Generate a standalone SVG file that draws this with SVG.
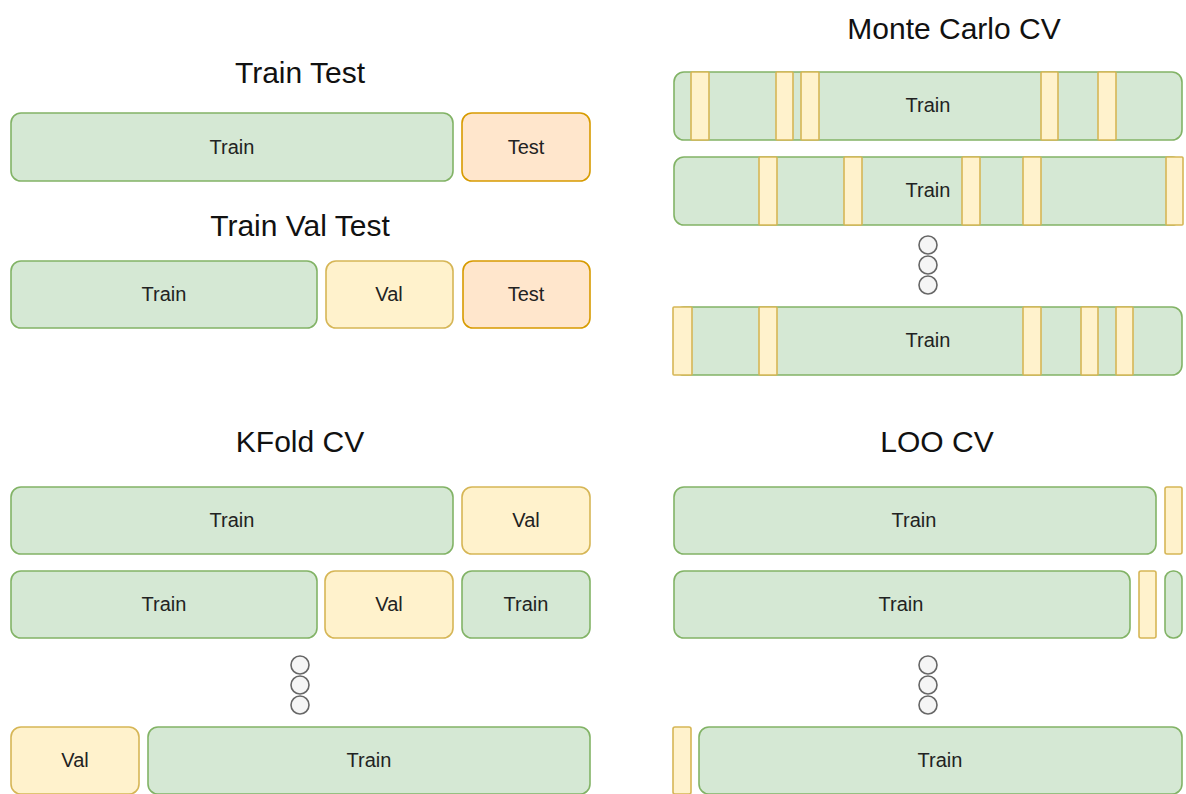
<svg xmlns="http://www.w3.org/2000/svg" width="1186" height="794" viewBox="0 0 1186 794">
  <style>
    .title { font-family: "Liberation Sans", Arial, sans-serif; font-size: 30px; fill: #111111; text-anchor: middle; }
    .lbl { font-family: "Liberation Sans", Arial, sans-serif; font-size: 20px; fill: #222222; text-anchor: middle; }
    .train { fill: #d5e8d4; stroke: #82b366; stroke-width: 1.6; }
    .val { fill: #fff2cc; stroke: #d6b656; stroke-width: 1.6; }
    .test { fill: #ffe6cc; stroke: #d79b00; stroke-width: 1.6; }
    .dot { fill: #f5f5f5; stroke: #666666; stroke-width: 1.6; }
  </style>
  <rect width="1186" height="794" fill="#ffffff"/>

  <!-- Train / Test split -->
  <g id="train-test">
    <text class="title" x="300" y="83">Train Test</text>
    <rect class="train" x="11" y="113" width="442" height="68" rx="10"/>
    <text class="lbl" x="232" y="154">Train</text>
    <rect class="test" x="462" y="113" width="128" height="68" rx="10"/>
    <text class="lbl" x="526" y="154">Test</text>
  </g>

  <!-- Train / Val / Test split -->
  <g id="train-val-test">
    <text class="title" x="300" y="236">Train Val Test</text>
    <rect class="train" x="11" y="261" width="306" height="67" rx="10"/>
    <text class="lbl" x="164" y="301">Train</text>
    <rect class="val" x="326" y="261" width="127" height="67" rx="10"/>
    <text class="lbl" x="389" y="301">Val</text>
    <rect class="test" x="463" y="261" width="127" height="67" rx="10"/>
    <text class="lbl" x="526" y="301">Test</text>
  </g>

  <!-- Monte Carlo cross-validation -->
  <g id="monte-carlo">
    <text class="title" x="954" y="39">Monte Carlo CV</text>
    <rect class="train" x="674" y="72" width="508" height="68" rx="10"/>
    <rect class="val" x="691" y="72" width="18" height="68" rx="1"/>
    <rect class="val" x="776" y="72" width="17" height="68" rx="1"/>
    <rect class="val" x="801" y="72" width="18" height="68" rx="1"/>
    <rect class="val" x="1041" y="72" width="17" height="68" rx="1"/>
    <rect class="val" x="1098" y="72" width="18" height="68" rx="1"/>
    <text class="lbl" x="928" y="112">Train</text>

    <rect class="train" x="674" y="157" width="508" height="68" rx="10"/>
    <rect class="val" x="759" y="157" width="18" height="68" rx="1"/>
    <rect class="val" x="844" y="157" width="18" height="68" rx="1"/>
    <rect class="val" x="962" y="157" width="18" height="68" rx="1"/>
    <rect class="val" x="1023" y="157" width="18" height="68" rx="1"/>
    <rect class="val" x="1166" y="157" width="17" height="68" rx="1"/>
    <text class="lbl" x="928" y="197">Train</text>

    <circle class="dot" cx="928" cy="245" r="9"/>
    <circle class="dot" cx="928" cy="265" r="9"/>
    <circle class="dot" cx="928" cy="285" r="9"/>

    <rect class="train" x="674" y="307" width="508" height="68" rx="10"/>
    <rect class="val" x="673" y="307" width="19" height="68" rx="1"/>
    <rect class="val" x="759" y="307" width="18" height="68" rx="1"/>
    <rect class="val" x="1023" y="307" width="18" height="68" rx="1"/>
    <rect class="val" x="1081" y="307" width="17" height="68" rx="1"/>
    <rect class="val" x="1116" y="307" width="17" height="68" rx="1"/>
    <text class="lbl" x="928" y="347">Train</text>
  </g>

  <!-- K-fold cross-validation -->
  <g id="kfold">
    <text class="title" x="300" y="452">KFold CV</text>
    <rect class="train" x="11" y="487" width="442" height="67" rx="10"/>
    <text class="lbl" x="232" y="527">Train</text>
    <rect class="val" x="462" y="487" width="128" height="67" rx="10"/>
    <text class="lbl" x="526" y="527">Val</text>

    <rect class="train" x="11" y="571" width="306" height="67" rx="10"/>
    <text class="lbl" x="164" y="611">Train</text>
    <rect class="val" x="325" y="571" width="128" height="67" rx="10"/>
    <text class="lbl" x="389" y="611">Val</text>
    <rect class="train" x="462" y="571" width="128" height="67" rx="10"/>
    <text class="lbl" x="526" y="611">Train</text>

    <circle class="dot" cx="300" cy="665" r="9"/>
    <circle class="dot" cx="300" cy="685" r="9"/>
    <circle class="dot" cx="300" cy="705" r="9"/>

    <rect class="val" x="11" y="727" width="128" height="67" rx="10"/>
    <text class="lbl" x="75" y="767">Val</text>
    <rect class="train" x="148" y="727" width="442" height="67" rx="10"/>
    <text class="lbl" x="369" y="767">Train</text>
  </g>

  <!-- Leave-one-out cross-validation -->
  <g id="loo">
    <text class="title" x="937" y="452">LOO CV</text>
    <rect class="train" x="674" y="487" width="482" height="67" rx="10"/>
    <text class="lbl" x="914" y="527">Train</text>
    <rect class="val" x="1165" y="487" width="17" height="67" rx="2"/>

    <rect class="train" x="674" y="571" width="456" height="67" rx="10"/>
    <text class="lbl" x="901" y="611">Train</text>
    <rect class="val" x="1139" y="571" width="17" height="67" rx="2"/>
    <rect class="train" x="1165" y="571" width="17" height="67" rx="8"/>

    <circle class="dot" cx="928" cy="665" r="9"/>
    <circle class="dot" cx="928" cy="685" r="9"/>
    <circle class="dot" cx="928" cy="705" r="9"/>

    <rect class="val" x="673" y="727" width="18" height="67" rx="2"/>
    <rect class="train" x="699" y="727" width="483" height="67" rx="10"/>
    <text class="lbl" x="940" y="767">Train</text>
  </g>
</svg>
